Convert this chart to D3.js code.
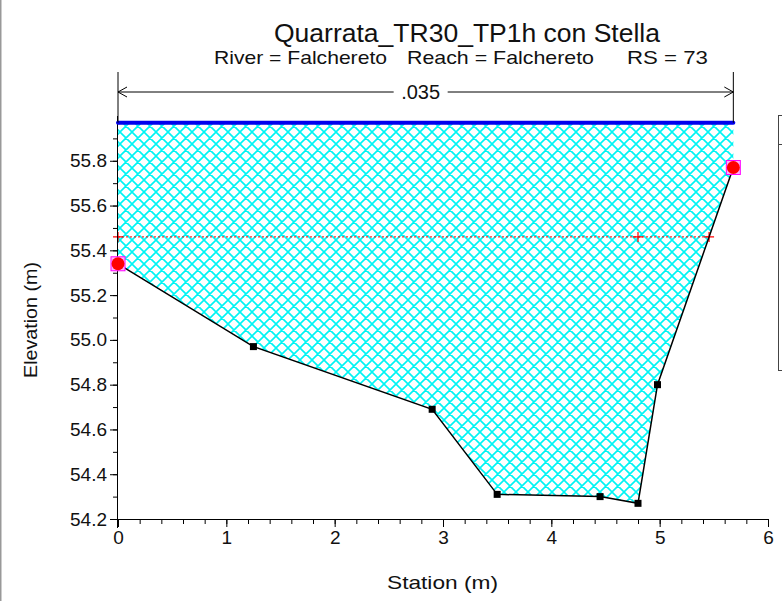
<!DOCTYPE html>
<html>
<head>
  <style>
    body{
      margin:0;
      background:#fff;
      font-family: "Liberation Sans", Arial, sans-serif;
    }
    svg text{
      fill:#111;
    }
    .axis path, .axis line{
      stroke:#000;
      stroke-width:1px;
    }
    .ground{
      fill:none;
      stroke:#000;
      stroke-width:1.5px;
    }
    .ws-line{
      stroke:#0000ee;
      stroke-width:4px;
      stroke-linecap:round;
    }
    .crit-line{
      stroke:#ff0000;
      stroke-width:1px;
      stroke-dasharray:2,2;
    }
  </style>
  <script src="https://d3js.org/d3.v7.min.js"></script>
</head>
<body>
<div class="chart"></div>
<script>
// cross section data
const stations = [0, 1.25, 2.9, 3.5, 4.45, 4.8, 4.98, 5.68];
const elevations = [55.34, 54.97, 54.69, 54.31, 54.30, 54.27, 54.80, 55.77];
const bankStations = [0, 5.68];
const bankElevations = [55.34, 55.77];
const wsElevation = 55.97;
const critStations = [0, 4.8, 5.456];
const critElevation = 55.46;
const manningN = '.035';
const xTicks = [0, 1, 2, 3, 4, 5, 6];
const yTicks = [54.2, 54.4, 54.6, 54.8, 55.0, 55.2, 55.4, 55.6, 55.8];

const width = 782;
const height = 601;

const svg = d3.select('.chart')
  .append('svg')
  .attr('width', width)
  .attr('height', height);

// left frame border
svg.append('line')
  .attr('x1', 0.5).attr('x2', 0.5)
  .attr('y1', 0).attr('y2', height)
  .attr('stroke', '#999').attr('stroke-width', 2);

const x = d3.scaleLinear().domain([0, 6]).range([118, 768]);
const y = d3.scaleLinear().domain([54.2, 56.0]).range([519, 116]);

const defs = svg.append('defs');
const pat = defs.append('pattern')
  .attr('id', 'hatch')
  .attr('patternUnits', 'userSpaceOnUse')
  .attr('width', 12).attr('height', 12);
pat.append('path')
  .attr('d', 'M0,0L12,12M12,0L0,12M-1,11L1,13M11,-1L13,1M-1,1L1,-1M11,13L13,11')
  .attr('stroke', '#00f4f4')
  .attr('stroke-width', 1.6);

// flow area below the water surface
const pts = stations.map((s, i) => [s, elevations[i]]);
const areaPts = [[0, wsElevation]].concat(pts, [[stations[stations.length - 1], wsElevation]]);
svg.append('path')
  .attr('d', d3.line().x(d => x(d[0])).y(d => y(d[1]))(areaPts) + 'Z')
  .attr('fill', 'url(#hatch)');

// critical / energy line
svg.append('line')
  .attr('class', 'crit-line')
  .attr('x1', x(critStations[0])).attr('x2', x(critStations[critStations.length - 1]))
  .attr('y1', y(critElevation)).attr('y2', y(critElevation));
svg.selectAll('.crit-mark')
  .data(critStations)
  .join('path')
  .attr('class', 'crit-mark')
  .attr('d', d => `M${x(d) - 5},${y(critElevation)}h10M${x(d)},${y(critElevation) - 5}v10`)
  .attr('stroke', '#ff0000')
  .attr('stroke-width', 1.2);

// axes
const xAxis = svg.append('g')
  .attr('class', 'axis')
  .attr('transform', `translate(0,${y(54.2)})`)
  .call(d3.axisBottom(x).tickValues(d3.range(0, 6.01, 0.2)).tickSize(5).tickFormat(''));
xAxis.select('.domain').remove();
svg.append('g')
  .attr('class', 'axis')
  .attr('transform', `translate(0,${y(54.2)})`)
  .call(d3.axisBottom(x).tickValues(xTicks).tickSize(8).tickPadding(4).tickFormat(d3.format('d')))
  .call(g => g.select('.domain').attr('d', `M110,0.5H${x(6)}`))
  .call(g => g.selectAll('text').attr('font-size', 19).attr('font-family', '"Liberation Sans", Arial, sans-serif').attr('fill', '#111'));

const yMinor = svg.append('g')
  .attr('class', 'axis')
  .attr('transform', `translate(${x(0)},0)`)
  .call(d3.axisLeft(y).tickValues(d3.range(54.2, 56.0, 0.1)).tickSize(5).tickFormat(''));
yMinor.select('.domain').remove();
svg.append('g')
  .attr('class', 'axis')
  .attr('transform', `translate(${x(0)},0)`)
  .call(d3.axisLeft(y).tickValues(yTicks).tickSize(8).tickPadding(3).tickFormat(d3.format('.1f')))
  .call(g => g.select('.domain').attr('d', `M-0.5,${y(54.2) + 9}V${y(56.0)}`))
  .call(g => g.selectAll('text').attr('font-size', 19).attr('font-family', '"Liberation Sans", Arial, sans-serif').attr('fill', '#111'));

// ground line and points
svg.append('path')
  .attr('class', 'ground')
  .attr('d', d3.line().x(d => x(d[0])).y(d => y(d[1]))(pts));
svg.selectAll('.gpt')
  .data(pts.slice(1, -1))
  .join('rect')
  .attr('class', 'gpt')
  .attr('x', d => x(d[0]) - 3.5).attr('y', d => y(d[1]) - 3.5)
  .attr('width', 7).attr('height', 7)
  .attr('fill', '#000');

// bank stations
const banks = bankStations.map((s, i) => [s, bankElevations[i]]);
svg.selectAll('.bank-sq')
  .data(banks)
  .join('rect')
  .attr('class', 'bank-sq')
  .attr('x', d => x(d[0]) - 7).attr('y', d => y(d[1]) - 7)
  .attr('width', 14).attr('height', 14)
  .attr('fill', '#ffb0ff').attr('stroke', '#ff00ff').attr('stroke-width', 1);
svg.selectAll('.bank-dot')
  .data(banks)
  .join('circle')
  .attr('class', 'bank-dot')
  .attr('cx', d => x(d[0])).attr('cy', d => y(d[1]))
  .attr('r', 6.5)
  .attr('fill', '#ff0000');

// water surface
svg.append('line')
  .attr('class', 'ws-line')
  .attr('x1', x(0)).attr('x2', x(bankStations[1]))
  .attr('y1', y(wsElevation)).attr('y2', y(wsElevation));

// manning n dimension line
const dimY = 92;
const x0 = x(0), x1 = x(bankStations[1]);
const xm = (x0 + x1) / 2 - 5;
svg.append('path')
  .attr('d', `M${x0},72V${y(wsElevation)}M${x1},72V${y(wsElevation)}` +
    `M${x0},${dimY}H${xm - 27}M${xm + 27},${dimY}H${x1}` +
    `M${x0 + 9},${dimY - 5}L${x0},${dimY}L${x0 + 9},${dimY + 5}` +
    `M${x1 - 9},${dimY - 5}L${x1},${dimY}L${x1 - 9},${dimY + 5}`)
  .attr('fill', 'none').attr('stroke', '#000').attr('stroke-width', 1);
svg.append('text')
  .attr('x', xm).attr('y', dimY + 7)
  .attr('text-anchor', 'middle')
  .attr('font-size', 20)
  .text(manningN);

// titles
svg.append('text')
  .attr('x', 274).attr('y', 42)
  .attr('font-size', 25)
  .attr('textLength', 386).attr('lengthAdjust', 'spacingAndGlyphs')
  .text('Quarrata_TR30_TP1h con Stella');
[['River = Falchereto', 214, 173], ['Reach = Falchereto', 407, 187], ['RS = 73', 627, 81]]
  .forEach(([t, tx, tl]) => {
    svg.append('text')
      .attr('x', tx).attr('y', 64)
      .attr('font-size', 18.5)
      .attr('textLength', tl).attr('lengthAdjust', 'spacingAndGlyphs')
      .text(t);
  });

svg.append('text')
  .attr('x', 387).attr('y', 589)
  .attr('font-size', 19)
  .attr('textLength', 111).attr('lengthAdjust', 'spacingAndGlyphs')
  .text('Station (m)');
svg.append('text')
  .attr('transform', 'translate(37,378) rotate(-90)')
  .attr('font-size', 19)
  .attr('textLength', 116).attr('lengthAdjust', 'spacingAndGlyphs')
  .text('Elevation (m)');

// legend box (clipped at right edge)
svg.append('rect')
  .attr('x', 778.5).attr('y', 115.5)
  .attr('width', 40).attr('height', 255)
  .attr('fill', 'none').attr('stroke', '#444');
svg.append('line')
  .attr('x1', 778.5).attr('x2', 800)
  .attr('y1', 144.5).attr('y2', 144.5)
  .attr('stroke', '#444');
</script>
</body>
</html>
